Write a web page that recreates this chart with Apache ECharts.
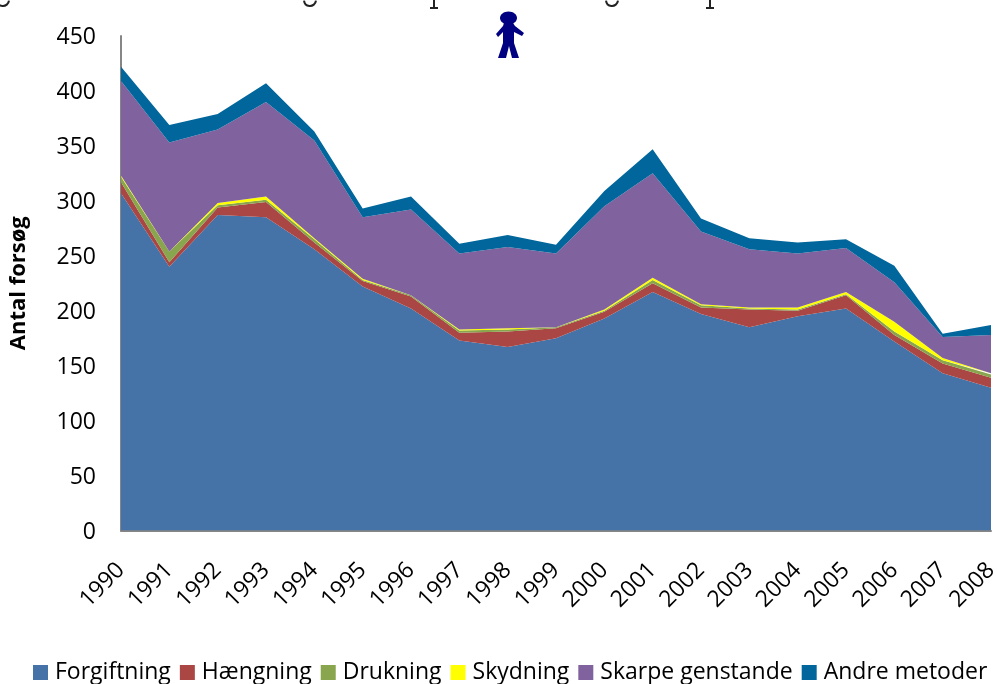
<!DOCTYPE html>
<html>
<head>
<meta charset="utf-8">
<script src="https://cdn.jsdelivr.net/npm/echarts@6/dist/echarts.min.js"></script>
<style>
html, body { margin: 0; padding: 0; background: #fff; }
#main { width: 997px; height: 684px; }
</style>
</head>
<body>
<div id="main"></div>
<script>
var years = ['1990','1991','1992','1993','1994','1995','1996','1997','1998','1999','2000','2001','2002','2003','2004','2005','2006','2007','2008'];

var forgiftning = [307,240,287,285,256,222,202,173,167,175,193,217,197,185,195,202,172,143,130];
var haengning = [10,4,7,14,6,5,11,7,14,9,6,8,6,16,5,12,6,9,9];
var drukning = [5,10,2,2,3,1,1,2,2,1,1,3,2,1,1,1,3,3,3];
var skydning = [1,0,2,3,1,1,0,1,1,0,1,2,1,1,2,2,9,2,1];
var skarpe = [86,99,67,86,89,56,78,69,74,67,94,95,66,53,49,40,36,19,35];
var andre = [13,16,14,17,8,8,12,9,11,8,14,22,12,10,10,8,15,3,9];

var chartFont = '"Open Sans", "Noto Sans", sans-serif';

function areaSeries(name, values, color) {
	return {
		name: name,
		type: 'line',
		stack: 'total',
		data: values,
		showSymbol: false,
		symbol: 'none',
		lineStyle: { width: 0 },
		areaStyle: { color: color, opacity: 1 },
		itemStyle: { color: color }
	};
}

// bottoms of the cropped heading letters along the top edge
function letterG(x) {
	return { type: 'arc', shape: { cx: x, cy: 0, r: 6, startAngle: 0.1, endAngle: Math.PI - 0.1 }, style: { stroke: '#222', lineWidth: 2, fill: null } };
}
function letterP(x) {
	return { type: 'polyline', shape: { points: [[x, 0], [x, 8], [x - 4, 8], [x + 4, 8]] }, style: { stroke: '#222', lineWidth: 2, fill: null } };
}

var person = [
	{ type: 'ellipse', shape: { cx: 508.5, cy: 18, rx: 8.5, ry: 6.5 }, style: { fill: '#000080' } },
	{ type: 'polygon', shape: { points: [[504,23],[513,23],[515,26],[524,33],[522,36],[514,32],[514,43],[519,58],[512,58],[509,46],[506,58],[498,58],[503,43],[503,32],[498,37],[496,34],[503,26]] }, style: { fill: '#000080' } }
];

var chart = echarts.init(document.getElementById('main'));

var option = {
	animation: false,
	grid: { left: 121, right: 6, top: 36, bottom: 153.5, outerBoundsMode: 'none' },
	legend: {
		left: 28,
		top: 656,
		itemWidth: 15,
		itemHeight: 15,
		itemGap: 9,
		icon: 'rect',
		textStyle: { fontFamily: chartFont, fontSize: 23, color: '#000', padding: [0, 0, 0, 2] }
	},
	xAxis: {
		type: 'category',
		boundaryGap: false,
		data: years,
		axisLine: { lineStyle: { color: '#868686', width: 2 } },
		axisTick: { show: false },
		axisLabel: { rotate: 45, fontFamily: chartFont, fontSize: 23, color: '#000', interval: 0, margin: 36 }
	},
	yAxis: {
		type: 'value',
		min: 0,
		max: 450,
		interval: 50,
		name: 'Antal forsøg',
		nameLocation: 'middle',
		nameGap: 91,
		nameTextStyle: { fontFamily: chartFont, fontSize: 22, fontWeight: 'bold', color: '#000' },
		axisLine: { show: true, lineStyle: { color: '#868686', width: 2 } },
		axisTick: { show: false },
		splitLine: { show: false },
		axisLabel: { fontFamily: chartFont, fontSize: 23, color: '#000', margin: 25, verticalAlign: 'top', lineHeight: 3 }
	},
	graphic: person.concat([letterG(3), letterG(310), letterP(434), letterG(612), letterP(710)]),
	series: [
		areaSeries('Forgiftning', forgiftning, '#4572a7'),
		areaSeries('Hængning', haengning, '#aa4643'),
		areaSeries('Drukning', drukning, '#89a54e'),
		areaSeries('Skydning', skydning, '#ffff00'),
		areaSeries('Skarpe genstande', skarpe, '#80629e'),
		areaSeries('Andre metoder', andre, '#00669b')
	]
};
chart.setOption(option);
</script>
</body>
</html>
